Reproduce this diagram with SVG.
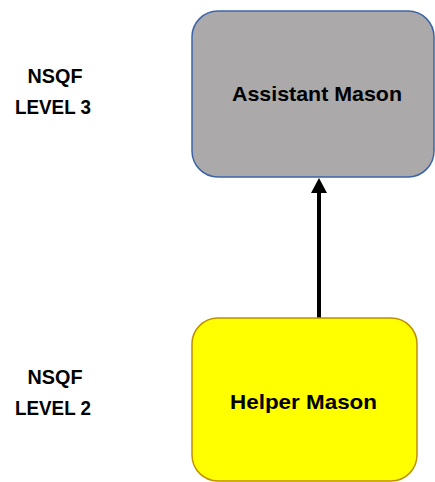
<svg xmlns="http://www.w3.org/2000/svg" width="435" height="482" viewBox="0 0 435 482">
<style>
.lbl{font-family:"Liberation Sans",Arial,sans-serif;font-weight:bold;fill:#000;}
.lvl{font-size:21px;text-anchor:middle;}
.node{font-size:21px;text-anchor:middle;}
</style>
<rect width="435" height="482" fill="#fff"/>
<g id="level3">
<text class="lbl lvl" x="55" y="83" textLength="55" lengthAdjust="spacingAndGlyphs">NSQF</text>
<text class="lbl lvl" x="53" y="114" textLength="76" lengthAdjust="spacingAndGlyphs">LEVEL 3</text>
</g>
<g id="level2">
<text class="lbl lvl" x="55" y="384" textLength="55" lengthAdjust="spacingAndGlyphs">NSQF</text>
<text class="lbl lvl" x="53" y="415" textLength="76" lengthAdjust="spacingAndGlyphs">LEVEL 2</text>
</g>
<g id="connectors">
<line x1="319" y1="318" x2="319" y2="192" stroke="#000" stroke-width="4"/>
<path d="M311,193 L319,178 L327,193 Z" fill="#000"/>
</g>
<g id="assistant-mason">
<rect x="192" y="11" width="242" height="166" rx="26" ry="26" fill="#ABA9AA" stroke="#3C64A8" stroke-width="1.5"/>
<text class="lbl node" x="317" y="101" textLength="170" lengthAdjust="spacingAndGlyphs">Assistant Mason</text>
</g>
<g id="helper-mason">
<rect x="192" y="318" width="225" height="163" rx="26" ry="26" fill="#FFFF00" stroke="#BF9000" stroke-width="1.5"/>
<text class="lbl node" x="303.5" y="409" textLength="147" lengthAdjust="spacingAndGlyphs">Helper Mason</text>
</g>
</svg>
